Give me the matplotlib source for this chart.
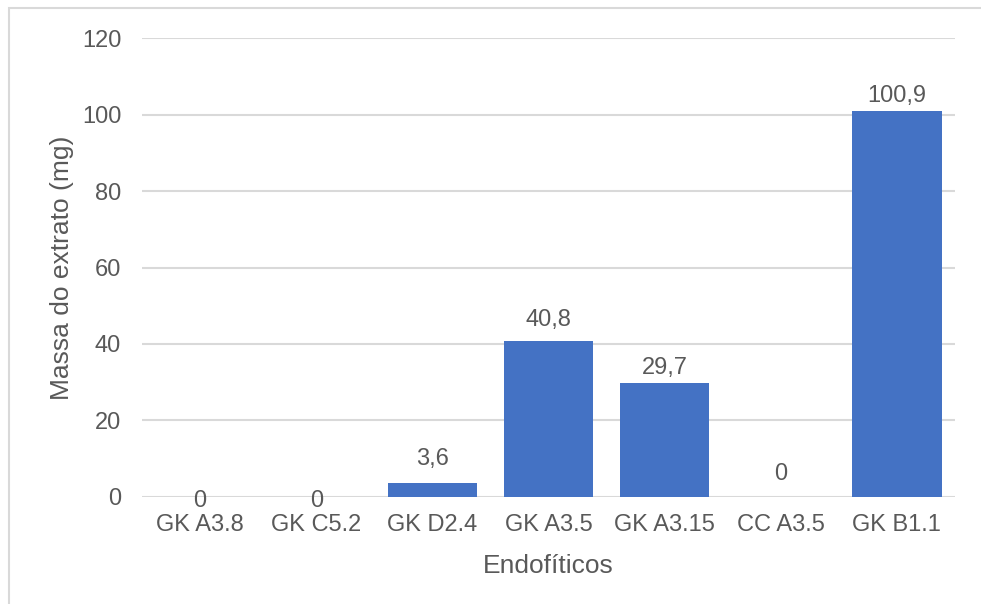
import matplotlib.pyplot as plt
from matplotlib.patches import Rectangle

# Dados
endofiticos = ['GK A3.8', 'GK C5.2', 'GK D2.4', 'GK A3.5', 'GK A3.15', 'CC A3.5', 'GK B1.1']
massa = [0, 0, 3.6, 40.8, 29.7, 0, 100.9]
yticks = [0, 20, 40, 60, 80, 100, 120]

# deslocamento vertical (pt) da linha de base de cada rótulo
desloc = [-7.2, -7.2, 13, 11, 6.5, 12.2, 6.5]

plt.rcParams['font.family'] = ['Liberation Sans', 'DejaVu Sans']
cor_texto = '#595959'
cor_grade = '#D9D9D9'

fig = plt.figure(figsize=(9.81, 6.04), dpi=100)
ax = fig.add_axes([0.1448, 0.1772, 0.8287, 0.7598])

# Borda do gráfico
fig.patches.append(Rectangle((9 / 981, -0.5), 2.0, 1 - 8 / 604 + 0.5,
                             transform=fig.transFigure, fill=False,
                             edgecolor=cor_grade, linewidth=1.5))

x = range(len(endofiticos))
ax.bar(x, massa, width=0.77, color='#4472C4', zorder=3)

# Rótulos de valor com vírgula decimal
for xi, v, d in zip(x, massa, desloc):
    txt = f'{v:g}'.replace('.', ',')
    ax.annotate(txt, (xi, v), xytext=(0, d), textcoords='offset points',
                ha='center', va='baseline', fontsize=17, color=cor_texto, zorder=4)

ax.set_xlim(-0.5, len(endofiticos) - 0.5)
ax.set_ylim(0, 120)
ax.set_yticks(yticks)
ax.set_xticks(list(x))
ax.set_xticklabels(endofiticos)
ax.yaxis.grid(True, color=cor_grade, linewidth=1.5, zorder=0)
ax.tick_params(axis='both', length=0, labelsize=17, labelcolor=cor_texto)
ax.tick_params(axis='y', pad=15)
ax.tick_params(axis='x', pad=12)
for s in ax.spines.values():
    s.set_visible(False)

ax.set_xlabel('Endofíticos', fontsize=19, color=cor_texto, labelpad=13)
ax.set_ylabel('Massa do extrato (mg)', fontsize=19, color=cor_texto, labelpad=6)

fig.savefig('out.png', dpi=100)
